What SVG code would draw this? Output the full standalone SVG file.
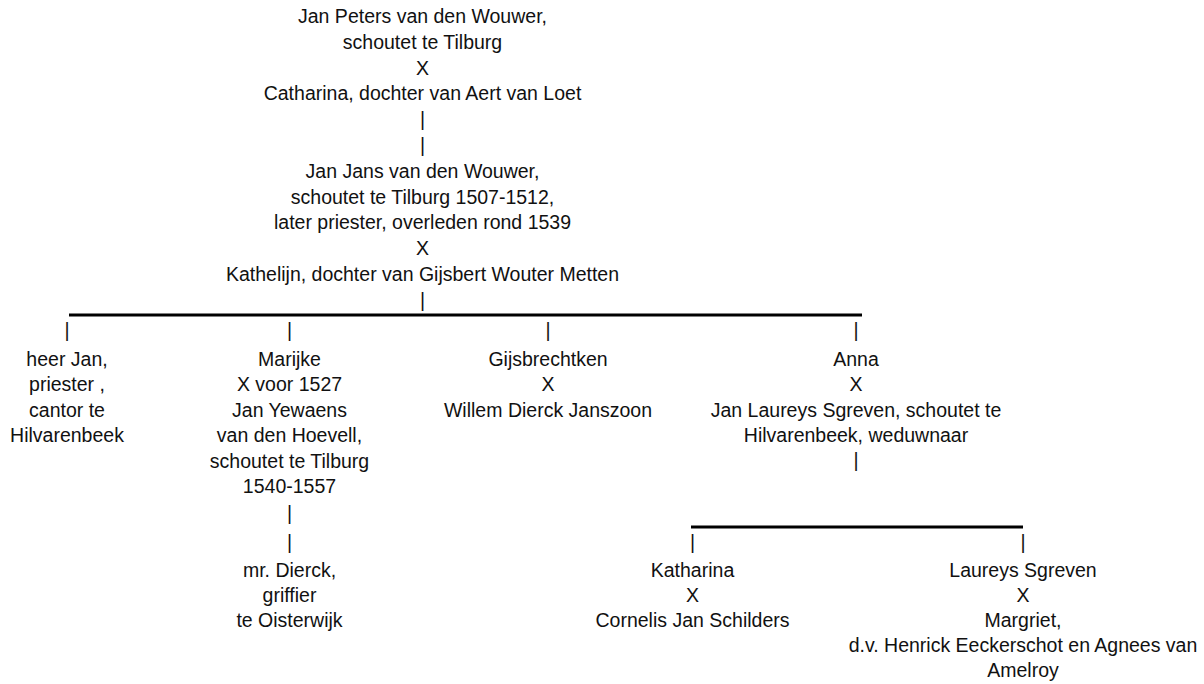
<svg xmlns="http://www.w3.org/2000/svg" width="1204" height="684" viewBox="0 0 1204 684">
<style>
text{font-family:"Liberation Sans",Arial,sans-serif;font-size:19.5px;fill:#111;text-anchor:middle}
.bar{stroke:#000;stroke-width:2.8;fill:none}
</style>
<rect width="1204" height="684" fill="#fff"/>
<g id="connectors">
<line class="bar" x1="69" y1="315" x2="862" y2="315"/>
<line class="bar" x1="691" y1="527" x2="1023" y2="527"/>
<text x="422.5" y="126.2">|</text>
<text x="422.5" y="152">|</text>
<text x="422.5" y="306.8">|</text>
<text x="67" y="337">|</text>
<text x="289.5" y="337">|</text>
<text x="548" y="337">|</text>
<text x="856" y="337">|</text>
<text x="289.5" y="520">|</text>
<text x="289.5" y="549">|</text>
<text x="856" y="466.5">|</text>
<text x="692.5" y="549">|</text>
<text x="1023" y="549">|</text>
</g>
<g id="node-jan-peters">
<text x="422.5" y="23">Jan Peters van den Wouwer,</text>
<text x="422.5" y="48.8">schoutet te Tilburg</text>
<text x="422.5" y="74.6">X</text>
<text x="422.5" y="100.4">Catharina, dochter van Aert van Loet</text>
</g>
<g id="node-jan-jans">
<text x="422.5" y="177.8">Jan Jans van den Wouwer,</text>
<text x="422.5" y="203.6">schoutet te Tilburg 1507-1512,</text>
<text x="422.5" y="229.4">later priester, overleden rond 1539</text>
<text x="422.5" y="255.2">X</text>
<text x="422.5" y="281">Kathelijn, dochter van Gijsbert Wouter Metten</text>
</g>
<g id="node-heer-jan">
<text x="67" y="365.5">heer Jan,</text>
<text x="67" y="391">priester ,</text>
<text x="67" y="416.5">cantor te</text>
<text x="67" y="442">Hilvarenbeek</text>
</g>
<g id="node-marijke">
<text x="289.5" y="365.5">Marijke</text>
<text x="289.5" y="391">X voor 1527</text>
<text x="289.5" y="416.5">Jan Yewaens</text>
<text x="289.5" y="442">van den Hoevell,</text>
<text x="289.5" y="467.5">schoutet te Tilburg</text>
<text x="289.5" y="493">1540-1557</text>
</g>
<g id="node-gijsbrechtken">
<text x="548" y="365.5">Gijsbrechtken</text>
<text x="548" y="391">X</text>
<text x="548" y="416.5">Willem Dierck Janszoon</text>
</g>
<g id="node-anna">
<text x="856" y="365.5">Anna</text>
<text x="856" y="391">X</text>
<text x="856" y="416.5">Jan Laureys Sgreven, schoutet te</text>
<text x="856" y="442">Hilvarenbeek, weduwnaar</text>
</g>
<g id="node-dierck">
<text x="289.5" y="577">mr. Dierck,</text>
<text x="289.5" y="602">griffier</text>
<text x="289.5" y="627">te Oisterwijk</text>
</g>
<g id="node-katharina">
<text x="692.5" y="577">Katharina</text>
<text x="692.5" y="602">X</text>
<text x="692.5" y="627">Cornelis Jan Schilders</text>
</g>
<g id="node-laureys">
<text x="1023" y="577">Laureys Sgreven</text>
<text x="1023" y="602">X</text>
<text x="1023" y="627">Margriet,</text>
<text x="1023" y="652">d.v. Henrick Eeckerschot en Agnees van</text>
<text x="1023" y="677">Amelroy</text>
</g>
</svg>
